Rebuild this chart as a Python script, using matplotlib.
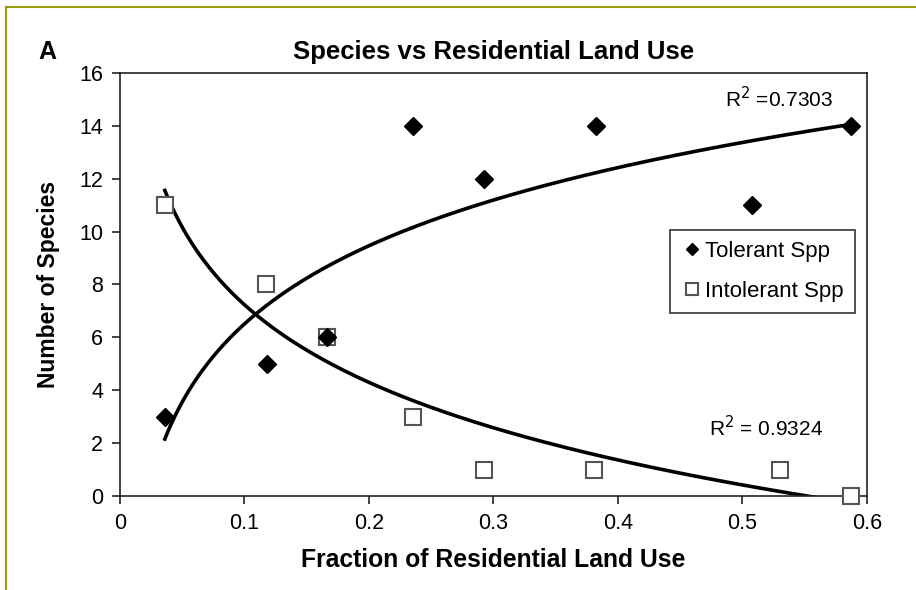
import numpy as np
import matplotlib
matplotlib.use("Agg")
import matplotlib.pyplot as plt
from matplotlib.lines import Line2D

plt.rcParams['font.family'] = ['Liberation Sans', 'DejaVu Sans']

# Fraction of residential land use at each site and species counts
tolerant_x = [0.036, 0.118, 0.166, 0.235, 0.292, 0.382, 0.508, 0.587]
tolerant_y = [3, 5, 6, 14, 12, 14, 11, 14]

intolerant_x = [0.036, 0.117, 0.166, 0.235, 0.292, 0.381, 0.530, 0.587]
intolerant_y = [11, 8, 6, 3, 1, 1, 1, 0]

r2_labels = ["R$^2$ =0.7303", "R$^2$ = 0.9324"]

fig = plt.figure(figsize=(9.16, 5.90), dpi=100)
ax = fig.add_axes([0.131, 0.1593, 0.8155, 0.717])

# Logarithmic trend lines, y = a*ln(x) + b
def log_trend(x, y):
    a, b = np.polyfit(np.log(x), y, 1)
    xs = np.linspace(min(x), max(x), 200)
    return xs, a * np.log(xs) + b

tx, ty = log_trend(tolerant_x, tolerant_y)
ix, iy = log_trend(intolerant_x, intolerant_y)
ax.plot(tx, ty, color='black', lw=2.6, zorder=2)
ax.plot(ix, iy, color='black', lw=2.6, zorder=2)

ax.plot(intolerant_x, intolerant_y, linestyle='none', marker='s', ms=12,
        mfc='white', mec='#555555', mew=1.5, label='Intolerant Spp', zorder=3,
        clip_on=False)
ax.plot(tolerant_x, tolerant_y, linestyle='none', marker='D', ms=8.8,
        mfc='black', mec='black', label='Tolerant Spp', zorder=4,
        clip_on=False)

ax.set_xlim(0, 0.6)
ax.set_ylim(0, 16)
ax.set_xticks([0, 0.1, 0.2, 0.3, 0.4, 0.5, 0.6])
ax.set_xticklabels(['0', '0.1', '0.2', '0.3', '0.4', '0.5', '0.6'])
ax.set_yticks(range(0, 17, 2))
ax.tick_params(direction='out', length=6, width=1.2, labelsize=15.5,
               pad=6, color='#222222')
for s in ax.spines.values():
    s.set_linewidth(1.2)
    s.set_color('#222222')

ax.set_title('Species vs Residential Land Use', fontsize=18.5,
             fontweight='bold', pad=10)
ax.set_xlabel('Fraction of Residential Land Use', fontsize=17.8,
              fontweight='bold', labelpad=10)
ax.set_ylabel('Number of Species', fontsize=16.5, fontweight='bold',
              labelpad=14)

ax.text(0.5727, 15.05, r2_labels[0], fontsize=15, ha='right', va='center')
ax.text(0.5647, 2.57, r2_labels[1], fontsize=15, ha='right', va='center')

handles, labels = ax.get_legend_handles_labels()
leg = ax.legend(handles[::-1], labels[::-1], loc='upper left',
                bbox_to_anchor=(0.736, 0.629), borderaxespad=0,
                fontsize=16, frameon=True, fancybox=False, edgecolor='black',
                handletextpad=0.1, handlelength=1.0, borderpad=0.5,
                labelspacing=0.85, markerscale=0.75)
leg.get_frame().set_linewidth(1.2)

fig.text(0.052, 0.912, 'A', fontsize=18, fontweight='bold', ha='center',
         va='center')

# olive frame along the top and left edges
fig.add_artist(Line2D([0.0066, 1.0], [0.988, 0.988], color='#9a9a10', lw=1.5))
fig.add_artist(Line2D([0.0066, 0.0066], [0.0, 0.988], color='#9a9a10', lw=1.5))

fig.savefig('out.png', dpi=100)
